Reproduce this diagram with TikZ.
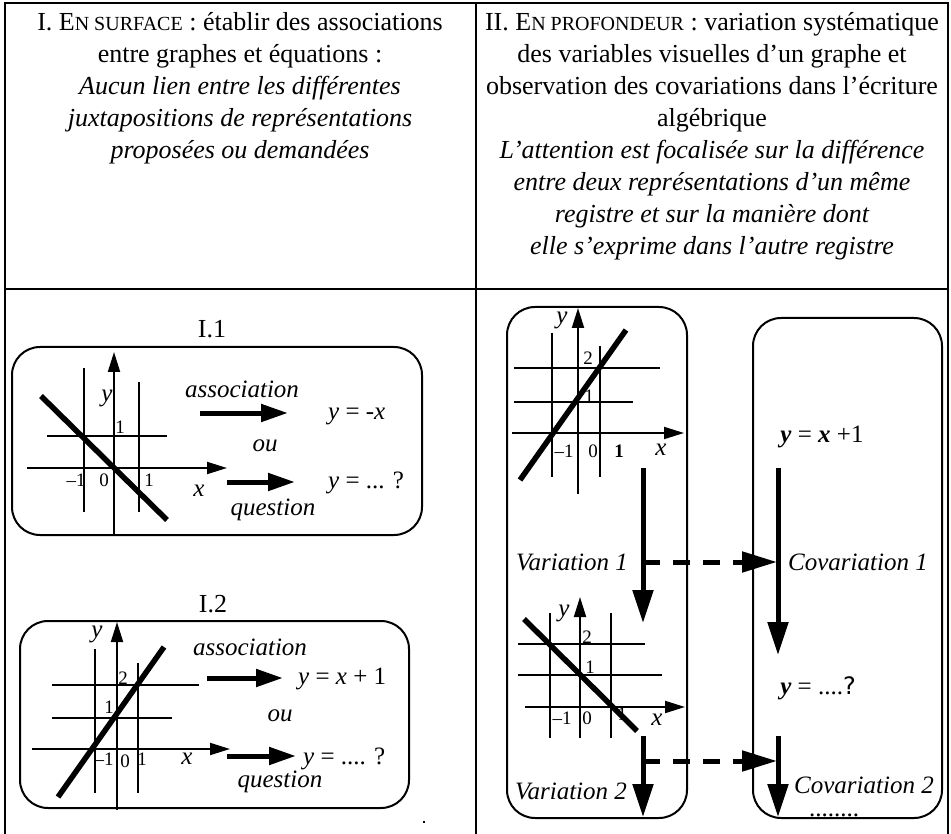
\documentclass[tikz,border=0pt]{standalone}
\usepackage{fontspec}
\setmainfont{Liberation Serif}
\newfontfamily\symfont{DejaVu Sans}
\usetikzlibrary{arrows.meta}
\newcommand\fsc[1]{{\fontsize{20}{24}\selectfont #1}}
\begin{document}
\begin{tikzpicture}[x=1pt,y=-1pt,
  hd/.style={anchor=base, inner sep=0, font=\fontsize{26}{32}\selectfont},
  hdi/.style={hd, font=\fontsize{26}{32}\selectfont\itshape},
  thinl/.style={line width=2pt},
  gline/.style={line width=5.5pt},
  axis/.style={line width=2pt, -{Triangle[length=20pt,width=12pt]}},
  bigarrow/.style={line width=5pt, -{Triangle[length=27pt,width=17pt]}},
  varrow/.style={line width=5pt, -{Triangle[length=33pt,width=20pt]}},
  darrow/.style={line width=5pt, dash pattern=on 17pt off 13pt, -{Triangle[length=35pt,width=20pt]}},
  box/.style={draw, line width=2pt, rounded corners=28pt, inner sep=0},
  lbl/.style={inner sep=0, font=\fontsize{25}{30}\selectfont\itshape},
  eq/.style={inner sep=0, font=\fontsize{25}{30}\selectfont},
  num/.style={inner sep=0, font=\fontsize{19}{22}\selectfont},
  ttl/.style={inner sep=0, font=\fontsize{26}{30}\selectfont}]
\useasboundingbox (0,0) rectangle (951,834);
% table
\draw[line width=1.6pt] (5,834) -- (5,3) -- (948,3) -- (948,834);
\draw[line width=1.2pt] (476,3) -- (476,834);
\draw[line width=2pt] (5,289) -- (948,289);
% header left
\node[hd] (hl1) at (240,31) {I. E\fsc{N SURFACE} : établir des associations};
\node[hd] (hl2) at (240,63) {entre graphes et équations :};
\node[hdi] (hl3) at (240,95) {Aucun lien entre les différentes};
\node[hdi] (hl4) at (240,127) {juxtapositions de représentations};
\node[hdi] (hl5) at (240,159) {proposées ou demandées};
% header right
\node[hd] (hr1) at (712,31) {II. E\fsc{N PROFONDEUR} : variation systématique};
\node[hd] (hr2) at (712,63) {des variables visuelles d’un graphe et};
\node[hd] (hr3) at (712,95) {observation des covariations dans l’écriture};
\node[hd] (hr4) at (712,127) {algébrique};
\node[hdi] (hr5) at (712,159) {L’attention est focalisée sur la différence};
\node[hdi] (hr6) at (712,191) {entre deux représentations d’un même};
\node[hdi] (hr7) at (712,223) {registre et sur la manière dont};
\node[hdi] (hr8) at (712,255) {elle s’exprime dans l’autre registre};

% ===== I.1 =====
\node[ttl] (t1) at (212,329) {I.1};
\node[box, minimum width=410pt, minimum height=188pt] (b1) at (217,441) {};
\draw[thinl] (84,368) -- (84,512);
\draw[thinl] (139,382) -- (139,512);
\draw[thinl] (47,436) -- (167,436);
\coordinate (y1s) at (114,535); \coordinate (y1e) at (114,352);
\coordinate (x1s) at (27,468); \coordinate (x1e) at (227,468);
\draw[axis] (y1s) -- (y1e);
\draw[axis] (x1s) -- (x1e);
\node[lbl] (y1l) at (107,398) {y};
\node[num] (n11) at (120,427) {1};
\node[num] (n12) at (76,480) {–1};
\node[num] (n13) at (104,480) {0};
\node[num] (n14) at (149,480) {1};
\node[lbl] (x1l) at (199,491) {x};
\coordinate (g1s) at (41,396); \coordinate (g1e) at (167,520);
\draw[gline] (g1s) -- (g1e);
\node[lbl] (as1) at (242,389) {association};
\node[eq, anchor=west] (e11) at (328,416) {\textit{y} = -\textit{x}};
\node[lbl] (ou1) at (265,446) {ou};
\node[eq, anchor=west] (e12) at (328,483) {\textit{y} = ... ?};
\node[lbl] (q1) at (273,510) {question};
\coordinate (a11s) at (200,413); \coordinate (a11e) at (288,413);
\coordinate (a12s) at (227,482); \coordinate (a12e) at (295,482);
\draw[bigarrow] (a11s) -- (a11e);
\draw[bigarrow] (a12s) -- (a12e);

% ===== I.2 =====
\node[ttl] (t2) at (213,604) {I.2};
\node[box, minimum width=389pt, minimum height=187pt] (b2) at (214.5,714.5) {};
\draw[thinl] (95,649) -- (95,793);
\draw[thinl] (138,663) -- (138,793);
\draw[thinl] (52,685) -- (199,685);
\draw[thinl] (52,718) -- (172,718);
\coordinate (y2s) at (117,810); \coordinate (y2e) at (117,622);
\coordinate (x2s) at (32,749); \coordinate (x2e) at (230,749);
\draw[axis] (y2s) -- (y2e);
\draw[axis] (x2s) -- (x2e);
\node[lbl] (y2l) at (97,634) {y};
\node[num] (n21) at (123,678) {2};
\node[num] (n22) at (109,707) {1};
\node[num] (n23) at (104,759) {–1};
\node[num] (n24) at (125,761) {0};
\node[num] (n25) at (142,759) {1};
\node[lbl] (x2l) at (187,759) {x};
\coordinate (g2s) at (58,797); \coordinate (g2e) at (164,647);
\draw[gline] (g2s) -- (g2e);
\node[lbl] (as2) at (250,647) {association};
\node[eq, anchor=west] (e21) at (298,679) {\textit{y} = \textit{x} + 1};
\node[lbl] (ou2) at (280,716) {ou};
\node[eq, anchor=west] (e22) at (303,759) {\textit{y} = .... ?};
\node[lbl] (q2) at (280,782) {question};
\coordinate (a21s) at (207,678); \coordinate (a21e) at (283,678);
\coordinate (a22s) at (227,756); \coordinate (a22e) at (296,756);
\draw[bigarrow] (a21s) -- (a21e);
\draw[bigarrow] (a22s) -- (a22e);
\node[inner sep=0.8pt, fill=black] (dot) at (424,822) {};

% ===== II =====
\node[box, minimum width=180pt, minimum height=511pt] (bl) at (597,562.5) {};
\node[box, minimum width=189pt, minimum height=500pt] (br) at (847.5,568) {};
% graph A
\draw[thinl] (552,333) -- (552,477);
\draw[thinl] (600,346) -- (600,477);
\draw[thinl] (514,368) -- (660,368);
\draw[thinl] (514,402) -- (633,402);
\coordinate (yAs) at (578,494); \coordinate (yAe) at (578,308);
\coordinate (xAs) at (512,433); \coordinate (xAe) at (684,433);
\draw[axis] (yAs) -- (yAe);
\draw[axis] (xAs) -- (xAe);
\node[lbl] (yAl) at (562,320) {y};
\node[num] (nA1) at (588,358) {2};
\node[num] (nA2) at (589,396) {1};
\node[num] (nA3) at (564,451) {–1};
\node[num] (nA4) at (593,451) {0};
\node[num] (nA5) at (619,451) {\textbf{1}};
\node[lbl] (xAl) at (661,450) {x};
\coordinate (gAs) at (520,480); \coordinate (gAe) at (626,330);
\draw[gline] (gAs) -- (gAe);
% graph B
\draw[thinl] (550,613) -- (550,738);
\draw[thinl] (611,613) -- (611,738);
\draw[thinl] (518,644) -- (645,644);
\draw[thinl] (518,675) -- (662,675);
\coordinate (yBs) at (580,738); \coordinate (yBe) at (580,597);
\coordinate (xBs) at (525,707); \coordinate (xBe) at (685,707);
\draw[axis] (yBs) -- (yBe);
\draw[axis] (xBs) -- (xBe);
\node[lbl] (yBl) at (564,613) {y};
\node[num] (nB1) at (587,637) {2};
\node[num] (nB2) at (590,667) {1};
\node[num] (nB3) at (562,718) {–1};
\node[num] (nB4) at (587,718) {0};
\node[num] (nB5) at (622,714) {1};
\node[lbl] (xBl) at (657,720) {x};
\coordinate (gBs) at (524,619); \coordinate (gBe) at (637,731);
\draw[gline] (gBs) -- (gBe);
% equations
\node[eq] (eA) at (822,437) {\textbf{\textit{y}} = \textbf{\textit{x}} +1};
\node[eq] (eB) at (818,688) {\textbf{\textit{y}} = ....{\symfont\fontsize{24}{28}\selectfont ?}};
% arrows
\coordinate (v1s) at (643,468); \coordinate (v1e) at (643,623);
\coordinate (v2s) at (643,736); \coordinate (v2e) at (643,817);
\coordinate (c1s) at (778,468); \coordinate (c1e) at (778,655);
\coordinate (c2s) at (778,736); \coordinate (c2e) at (778,817);
\coordinate (d1s) at (643,562); \coordinate (d1e) at (777,562);
\coordinate (d2s) at (643,761); \coordinate (d2e) at (777,761);
\draw[varrow] (v1s) -- (v1e);
\draw[varrow] (v2s) -- (v2e);
\draw[varrow] (c1s) -- (c1e);
\draw[varrow] (c2s) -- (c2e);
\draw[darrow] (d1s) -- (d1e);
\draw[darrow] (d2s) -- (d2e);
\node[lbl] (var1) at (572,562) {Variation 1};
\node[lbl] (cov1) at (858,562) {Covariation 1};
\node[lbl] (var2) at (571,791) {Variation 2};
\node[lbl] (cov2) at (864,785) {Covariation 2};
\node[eq] (dots) at (834,815) {........};
\end{tikzpicture}
\end{document}
